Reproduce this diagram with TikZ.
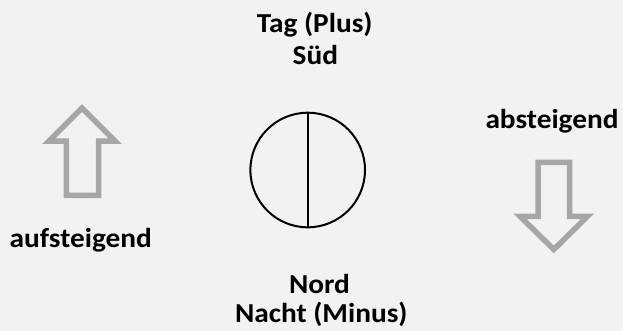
\documentclass[tikz,border=0pt]{standalone}
\usepackage{fontspec}
\setmainfont{Carlito}
\newfontfamily\lblfont[FakeStretch=1.07]{Carlito}
\definecolor{bg}{HTML}{F2F2F2}
\definecolor{arrowgray}{HTML}{A6A6A6}
\tikzset{
  lbl/.style={font=\lblfont\bfseries\fontsize{27.5}{30}\selectfont, anchor=base, inner sep=0pt, text=black},
  bigarrow/.style={draw=arrowgray, line width=5.5bp, line join=miter, miter limit=20},
}
\begin{document}
\begin{tikzpicture}[x=1bp,y=-1bp]
\fill[bg] (0,0) rectangle (623,331);
\useasboundingbox (0,0) rectangle (623,331);
% texts
\node[lbl] (tag) at (314.7,32.3) {Tag (Plus)};
\node[lbl] (sued) at (315.3,64.3) {Süd};
\node[lbl] (nord) at (319.5,293.3) {Nord};
\node[lbl] (nacht) at (321.3,322.3) {Nacht (Minus)};
\node[lbl] (ab) at (552,128.3) {absteigend};
\node[lbl] (auf) at (80.8,247.7) {aufsteigend};
% circle
\node[circle, draw, line width=2bp, minimum size=114.6bp, inner sep=0pt] (c) at (307.7,170) {};
\draw[line width=2bp] (c.north) -- (c.south);
% up arrow
\draw[bigarrow] (82,108) -- (115,141) -- (98.7,141) -- (98.7,195.3) -- (66.3,195.3) -- (66.3,141) -- (49,141) -- cycle;
% down arrow
\draw[bigarrow] (553.8,249.5) -- (587.5,216.3) -- (569.7,216.3) -- (569.7,162.3) -- (538,162.3) -- (538,216.3) -- (520,216.3) -- cycle;
\end{tikzpicture}
\end{document}
